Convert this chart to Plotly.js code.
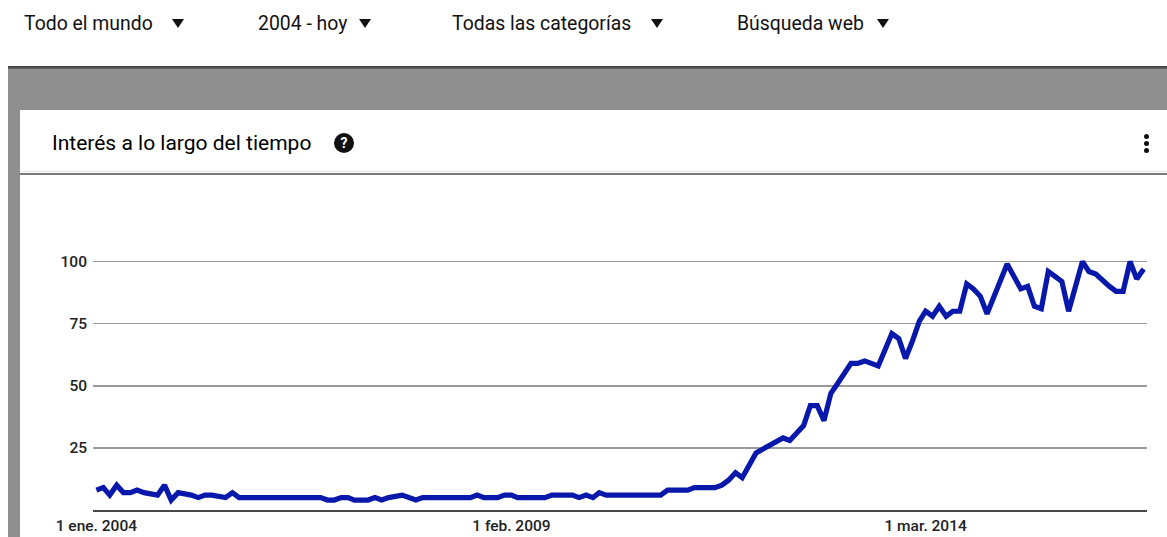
<!DOCTYPE html>
<html><head><meta charset="utf-8">
<script src="https://cdn.plot.ly/plotly-3.0.1.min.js"></script>
<style>
html,body{margin:0;padding:0;width:1167px;height:537px;overflow:hidden;background:#fff;font-family:Roboto,"Noto Sans",Arial,sans-serif;}
.abs{position:absolute;}
.dd{position:absolute;top:12px;font-size:19.4px;color:#111;white-space:nowrap;line-height:24px;}
.tri{position:absolute;top:19px;width:0;height:0;border-left:6.5px solid transparent;border-right:6.5px solid transparent;border-top:9px solid #111;}
#gray{left:8px;top:66px;width:1159px;height:471px;background:#8f8f8f;}
#shadow{left:8px;top:66px;width:1159px;height:3px;background:linear-gradient(#3a3a3a,#6a6a6a);}
#card{left:20px;top:110px;width:1147px;height:427px;background:#fff;}
#title{left:52px;top:130px;font-size:21px;line-height:26px;color:#000;white-space:nowrap;}
#help{left:334px;top:133px;width:20px;height:20px;border-radius:50%;background:#111;color:#fff;font-size:14px;font-weight:bold;line-height:20px;text-align:center;}
.dot{position:absolute;left:1144px;width:5px;height:5px;border-radius:50%;background:#111;}
#sep1{left:20px;top:171px;width:1147px;height:1px;background:#e2e2e2;}
#sep2{left:20px;top:173px;width:1147px;height:2px;background:#7a7a7a;}
#chart{left:0;top:0;width:1167px;height:537px;}
</style></head>
<body>
<div class="dd" style="left:24px">Todo el mundo</div><div class="tri" style="left:172px"></div>
<div class="dd" style="left:258px">2004 - hoy</div><div class="tri" style="left:359px"></div>
<div class="dd" style="left:452px">Todas las categorías</div><div class="tri" style="left:651px"></div>
<div class="dd" style="left:737px">Búsqueda web</div><div class="tri" style="left:877px"></div>
<div id="gray" class="abs"></div>
<div id="shadow" class="abs"></div>
<div id="card" class="abs"></div>
<div id="title" class="abs">Interés a lo largo del tiempo</div>
<div id="help" class="abs">?</div>
<div class="dot" style="top:134px"></div><div class="dot" style="top:141px"></div><div class="dot" style="top:148px"></div>
<div id="sep1" class="abs"></div>
<div id="sep2" class="abs"></div>
<div id="chart" class="abs"></div>
<script>
const dates = ["2004-01-01","2004-02-01","2004-03-01","2004-04-01","2004-05-01","2004-06-01","2004-07-01","2004-08-01","2004-10-01","2004-11-01","2004-12-01",
"2005-01-01","2005-03-01","2005-04-01","2005-05-01","2005-06-01","2005-08-01","2005-09-01","2005-10-01",
"2006-10-01","2006-11-01","2006-12-01",
"2007-01-01","2007-02-01","2007-03-01","2007-05-01","2007-06-01","2007-07-01","2007-08-01","2007-10-01","2007-12-01",
"2008-01-01","2008-08-01","2008-09-01","2008-10-01","2008-12-01",
"2009-01-01","2009-02-01","2009-03-01","2009-07-01","2009-08-01","2009-11-01","2009-12-01",
"2010-01-01","2010-02-01","2010-03-01","2010-04-01","2010-12-01",
"2011-01-01","2011-04-01","2011-05-01","2011-08-01","2011-09-01","2011-10-01","2011-11-01","2011-12-01",
"2012-02-01","2012-04-01","2012-05-01","2012-06-01","2012-07-01","2012-09-01","2012-10-01","2012-11-01","2012-12-01",
"2013-01-01","2013-02-01","2013-03-01","2013-04-01","2013-05-01","2013-06-01","2013-08-01","2013-10-01","2013-11-01","2013-12-01",
"2014-01-01","2014-02-01","2014-03-01","2014-04-01","2014-05-01","2014-06-01","2014-07-01","2014-08-01","2014-09-01","2014-10-01","2014-11-01","2014-12-01",
"2015-03-01","2015-05-01","2015-06-01","2015-07-01","2015-08-01","2015-09-01","2015-10-01","2015-11-01","2015-12-01",
"2016-02-01","2016-03-01","2016-04-01","2016-06-01","2016-07-01","2016-08-01","2016-09-01","2016-10-01","2016-11-01"];
const interest = [8,9,6,10,7,7,8,7,6,10,4,
7,6,5,6,6,5,7,5,
5,4,4,
5,5,4,4,5,4,5,6,4,
5,5,6,5,5,
6,6,5,5,6,6,5,
6,5,7,6,6,
8,8,9,9,10,12,15,13,
23,26,28,29,28,34,42,42,36,
47,51,55,59,59,60,58,71,69,61,
68,76,80,78,82,78,80,80,91,89,86,79,
99,89,90,82,81,96,94,92,80,
100,96,95,90,88,88,100,93,97];
const yTicks = [25,50,75,100];
const xTickVals = ["2004-01-01","2009-02-01","2014-03-01"];
const xTickText = ["1 ene. 2004","1 feb. 2009","1 mar. 2014"];

const trace = {x: dates, y: interest, type:'scatter', mode:'lines',
  line:{color:'#0818aa', width:5.2, shape:'linear'}, hoverinfo:'skip'};
const tf = {family:'Roboto, "Noto Sans", Arial, sans-serif', size:15.5, color:'#222', weight:500};
const layout = {
  width:1167, height:537,
  margin:{l:93, r:20, t:230, b:27, pad:0},
  paper_bgcolor:'rgba(0,0,0,0)', plot_bgcolor:'rgba(0,0,0,0)',
  showlegend:false,
  font:{family:'Roboto, "Noto Sans", Arial, sans-serif', size:15, color:'#222'},
  xaxis:{type:'date', range:['2003-12-17','2016-11-16'], tickvals:xTickVals, ticktext:xTickText,
    showgrid:false, zeroline:false, showline:true, linecolor:'#4a4a4a', linewidth:2,
    ticks:'', ticklabelstandoff:0, tickfont:tf, fixedrange:true},
  yaxis:{range:[0,112.7], tickvals:yTicks, showgrid:true, gridcolor:'#9a9a9a', gridwidth:1.6,
    zeroline:false, showline:false, ticks:'', ticklabelstandoff:5, tickfont:tf, fixedrange:true}
};
Plotly.newPlot('chart',[trace],layout,{staticPlot:true, displayModeBar:false});
</script>
</body></html>
